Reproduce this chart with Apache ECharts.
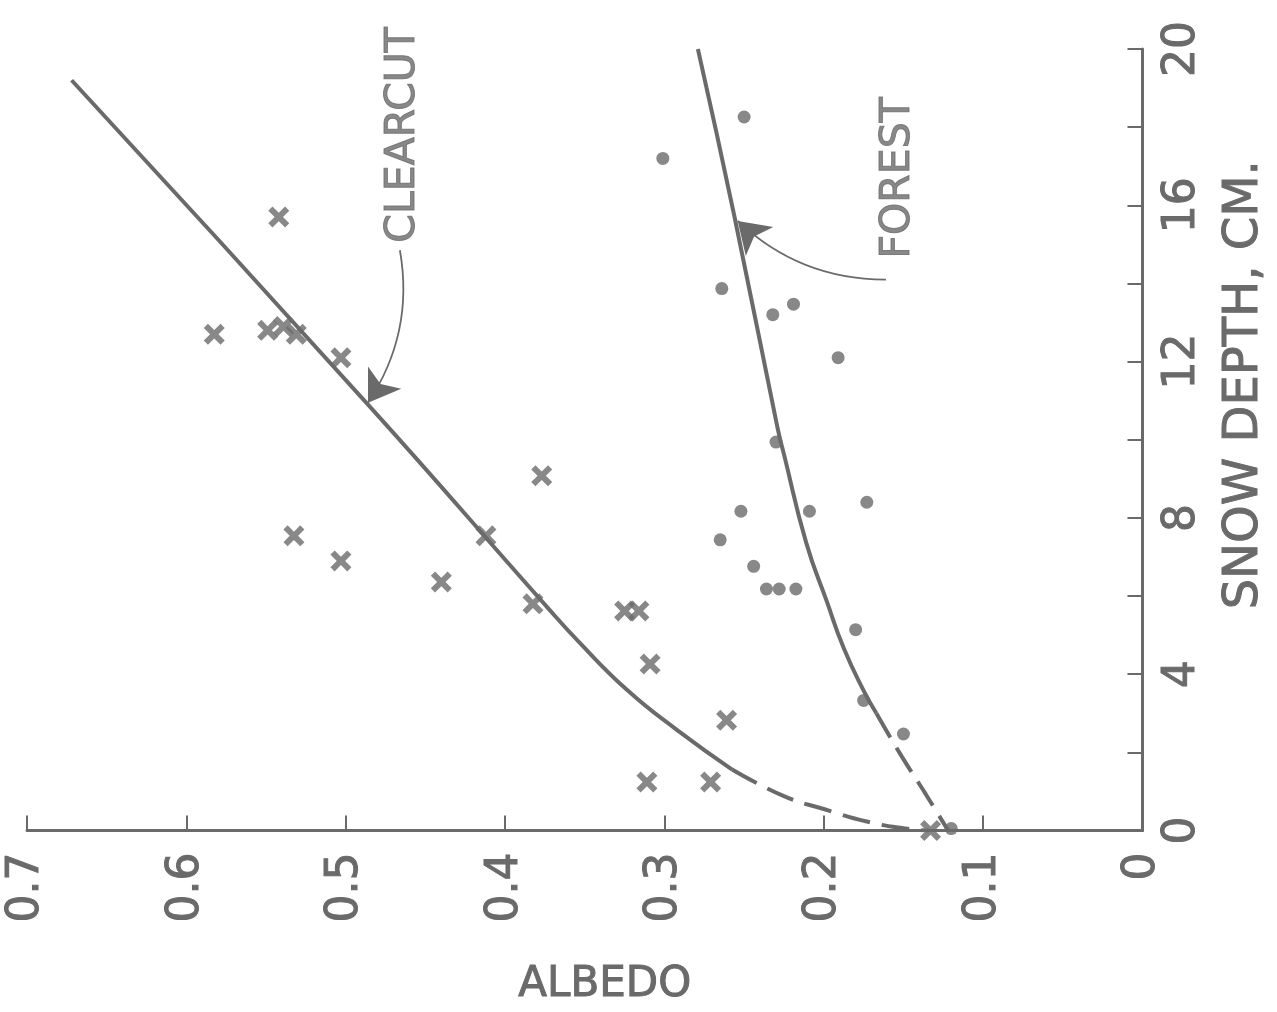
<!DOCTYPE html>
<html>
<head>
<meta charset="UTF-8">
<title>Albedo and snow depth</title>
<script src="https://cdn.jsdelivr.net/npm/echarts@6/dist/echarts.min.js"></script>
<style>
body{margin:0;background:#fff}
#main{width:1277px;height:1012px}
</style>
</head>
<body>
<div id="main"></div>
<script>
// [albedo, snow depth cm]
var clearcutPts = [[0.542,15.7],[0.5825,12.7],[0.549,12.8],[0.539,12.9],[0.531,12.7],[0.503,12.1],
    [0.5325,7.54],[0.503,6.9],[0.412,7.54],[0.377,9.08],[0.44,6.36],[0.3825,5.8],[0.325,5.62],
    [0.316,5.62],[0.309,4.26],[0.261,2.82],[0.311,1.24],[0.271,1.24],[0.133,0]];
var forestPts = [[0.25,18.26],[0.301,17.2],[0.264,13.87],[0.232,13.2],[0.219,13.47],[0.191,12.1],
    [0.23,9.94],[0.252,8.17],[0.209,8.17],[0.173,8.4],[0.265,7.44],[0.244,6.76],[0.236,6.18],
    [0.228,6.18],[0.2175,6.18],[0.18,5.14],[0.175,3.33],[0.15,2.47],[0.12,0.05]];
var clearcutSolid = [[0.672,19.2],[0.486,10.9],[0.375,5.78],[0.354,4.84],[0.323,3.58],
    [0.292,2.57],[0.2575,1.56]];
var clearcutDash = [[0.2575,1.56],[0.225,0.88],[0.2,0.55],[0.173,0.23],[0.149,0.05],[0.134,0]];
var forestSolid = [[0.279,20.0],[0.256,15.7],[0.229,10.3],[0.225,9.63],[0.211,7.36],[0.198,5.85],
    [0.1875,4.67],[0.175,3.58],[0.167,3.0]];
var forestDash = [[0.167,3.0],[0.151,1.89],[0.136,0.93],[0.122,0]];
var labelPts = [{name:'CLEARCUT',value:[0.464,17.8]},{name:'FOREST',value:[0.153,16.7]}];
var arrows = [{coords:[[0.466,14.85],[0.486,10.95]]},{coords:[[0.161,14.1],[0.254,15.6]]}];

var grey = '#6a6a6a';
var font = 'DejaVu Sans';
var cross = 'path://M2,0 L5,3 L8,0 L10,2 L7,5 L10,8 L8,10 L5,7 L2,10 L0,8 L3,5 L0,2 Z';
var txt = function (size) {
    return {color: grey, fontFamily: font, fontSize: size, textBorderColor: grey, textBorderWidth: 1};
};

var chart = echarts.init(document.getElementById('main'));
chart.setOption({
    backgroundColor: '#fff',
    animation: false,
    grid: {left: 27, right: 126, top: 49, bottom: 170},
    xAxis: {
        type: 'value', inverse: true, min: 0, max: 0.7, interval: 0.1,
        name: 'ALBEDO', nameLocation: 'middle', nameGap: 134,
        nameTextStyle: Object.assign(txt(42), {padding: [0, 0, 0, 40]}),
        axisLine: {lineStyle: {color: grey, width: 3}},
        axisTick: {inside: true, length: 15, lineStyle: {color: grey, width: 2}},
        axisLabel: Object.assign(txt(44), {
            rotate: 90, margin: 22,
            formatter: function (v) { return v === 0 ? '0' : v.toFixed(1); }
        }),
        splitLine: {show: false}
    },
    yAxis: {
        type: 'value', position: 'right', min: 0, max: 20, interval: 4,
        name: 'SNOW DEPTH, CM.', nameLocation: 'middle', nameGap: 78, nameRotate: 90,
        nameTextStyle: Object.assign(txt(48), {padding: [0, 0, 0, 110]}),
        axisLine: {show: true, lineStyle: {color: grey, width: 3}},
        axisTick: {inside: true, length: 15, lineStyle: {color: grey, width: 2}},
        minorTick: {show: true, splitNumber: 2, length: 15, lineStyle: {color: grey, width: 2}},
        axisLabel: Object.assign(txt(44), {rotate: 90, margin: 18}),
        splitLine: {show: false}
    },
    series: [
        {type: 'line', data: clearcutSolid, smooth: 0.5, symbol: 'none',
            lineStyle: {color: grey, width: 4}},
        {type: 'line', data: clearcutDash, smooth: 0.5, symbol: 'none',
            lineStyle: {color: grey, width: 4, type: [28, 12]}},
        {type: 'line', data: forestSolid, smooth: 0.5, symbol: 'none',
            lineStyle: {color: grey, width: 4}},
        {type: 'line', data: forestDash, smooth: 0.5, symbol: 'none',
            lineStyle: {color: grey, width: 4, type: [28, 12]}},
        {type: 'scatter', data: clearcutPts, symbol: cross, symbolSize: 21,
            itemStyle: {color: grey}},
        {type: 'scatter', data: forestPts, symbol: 'circle', symbolSize: 13,
            itemStyle: {color: grey}},
        {type: 'lines', coordinateSystem: 'cartesian2d', data: arrows,
            symbol: ['none', 'arrow'], symbolSize: [13, 30],
            lineStyle: {color: grey, width: 1.8, curveness: 0.2, opacity: 1}},
        {type: 'scatter', data: labelPts, symbolSize: 0,
            label: Object.assign(txt(41), {show: true, position: 'inside', rotate: 90, formatter: '{b}'})}
    ]
});
</script>
</body>
</html>
